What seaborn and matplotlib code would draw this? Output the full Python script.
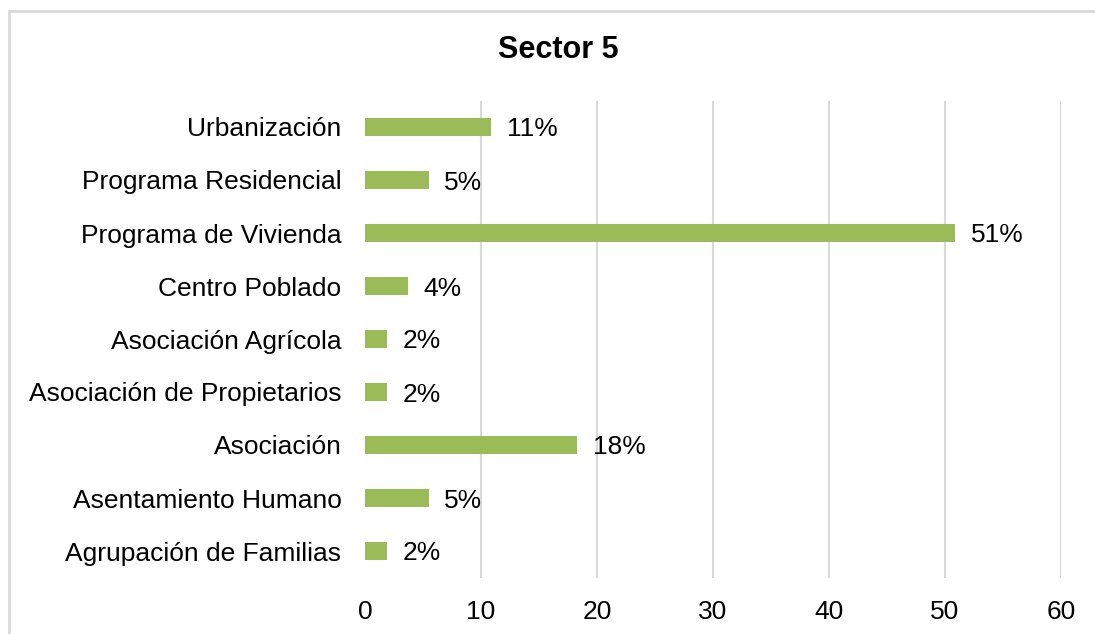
import pandas as pd
import matplotlib
matplotlib.use("Agg")
import matplotlib.pyplot as plt
import seaborn as sns
from matplotlib.patches import Rectangle

categories = ['Urbanización', 'Programa Residencial', 'Programa de Vivienda',
              'Centro Poblado', 'Asociación Agrícola', 'Asociación de Propietarios',
              'Asociación', 'Asentamiento Humano', 'Agrupación de Familias']
values = [10.9, 5.5, 50.9, 3.7, 1.9, 1.9, 18.3, 5.5, 1.9]
value_labels = ['11%', '5%', '51%', '4%', '2%', '2%', '18%', '5%', '2%']
x_ticks = [0, 10, 20, 30, 40, 50, 60]

sns.set_style('white')
plt.rcParams['font.family'] = ['Liberation Sans', 'DejaVu Sans']

df = pd.DataFrame({'categoria': categories, 'valor': values})

fig = plt.figure(figsize=(10.95, 6.34), dpi=100)
ax = fig.add_axes([365 / 1095, 1 - 577.5 / 634, (1061 - 365) / 1095, 477 / 634])

# grid lines first so bars sit on top
for xt in x_ticks[1:]:
    ax.axvline(xt, color='#D9D9D9', linewidth=1.5, zorder=0)

sns.barplot(data=df, x='valor', y='categoria', orient='h', color='#9BBB59',
            saturation=1, width=0.35, linewidth=0, ax=ax, zorder=2)

for i, (v, lab) in enumerate(zip(values, value_labels)):
    ax.annotate(lab, xy=(v, i), xytext=(11, 0), textcoords='offset points',
                va='center_baseline', ha='left', fontsize=19, color='#000000')

ax.set_xlim(0, 60)
ax.set_ylim(8.5, -0.5)
ax.set_xticks(x_ticks)
ax.set_xticklabels([str(t) for t in x_ticks])
ax.set_xlabel('')
ax.set_ylabel('')
for s in ax.spines.values():
    s.set_visible(False)
ax.tick_params(axis='y', length=0, pad=17, labelsize=19, colors='#000000')
ax.tick_params(axis='x', length=0, pad=16, labelsize=19, colors='#000000')

fig.text(558 / 1095, 1 - 50 / 634, 'Sector 5', ha='center', va='center',
         fontsize=22, fontweight='bold', color='#000000')

# chart area border (Excel style)
fig.patches.append(Rectangle((9 / 1095, -0.1), 1.2, 1 - 11 / 634 + 0.1,
                             transform=fig.transFigure, fill=False,
                             edgecolor='#D9D9D9', linewidth=2, zorder=0))

fig.savefig('out.png', dpi=100)
